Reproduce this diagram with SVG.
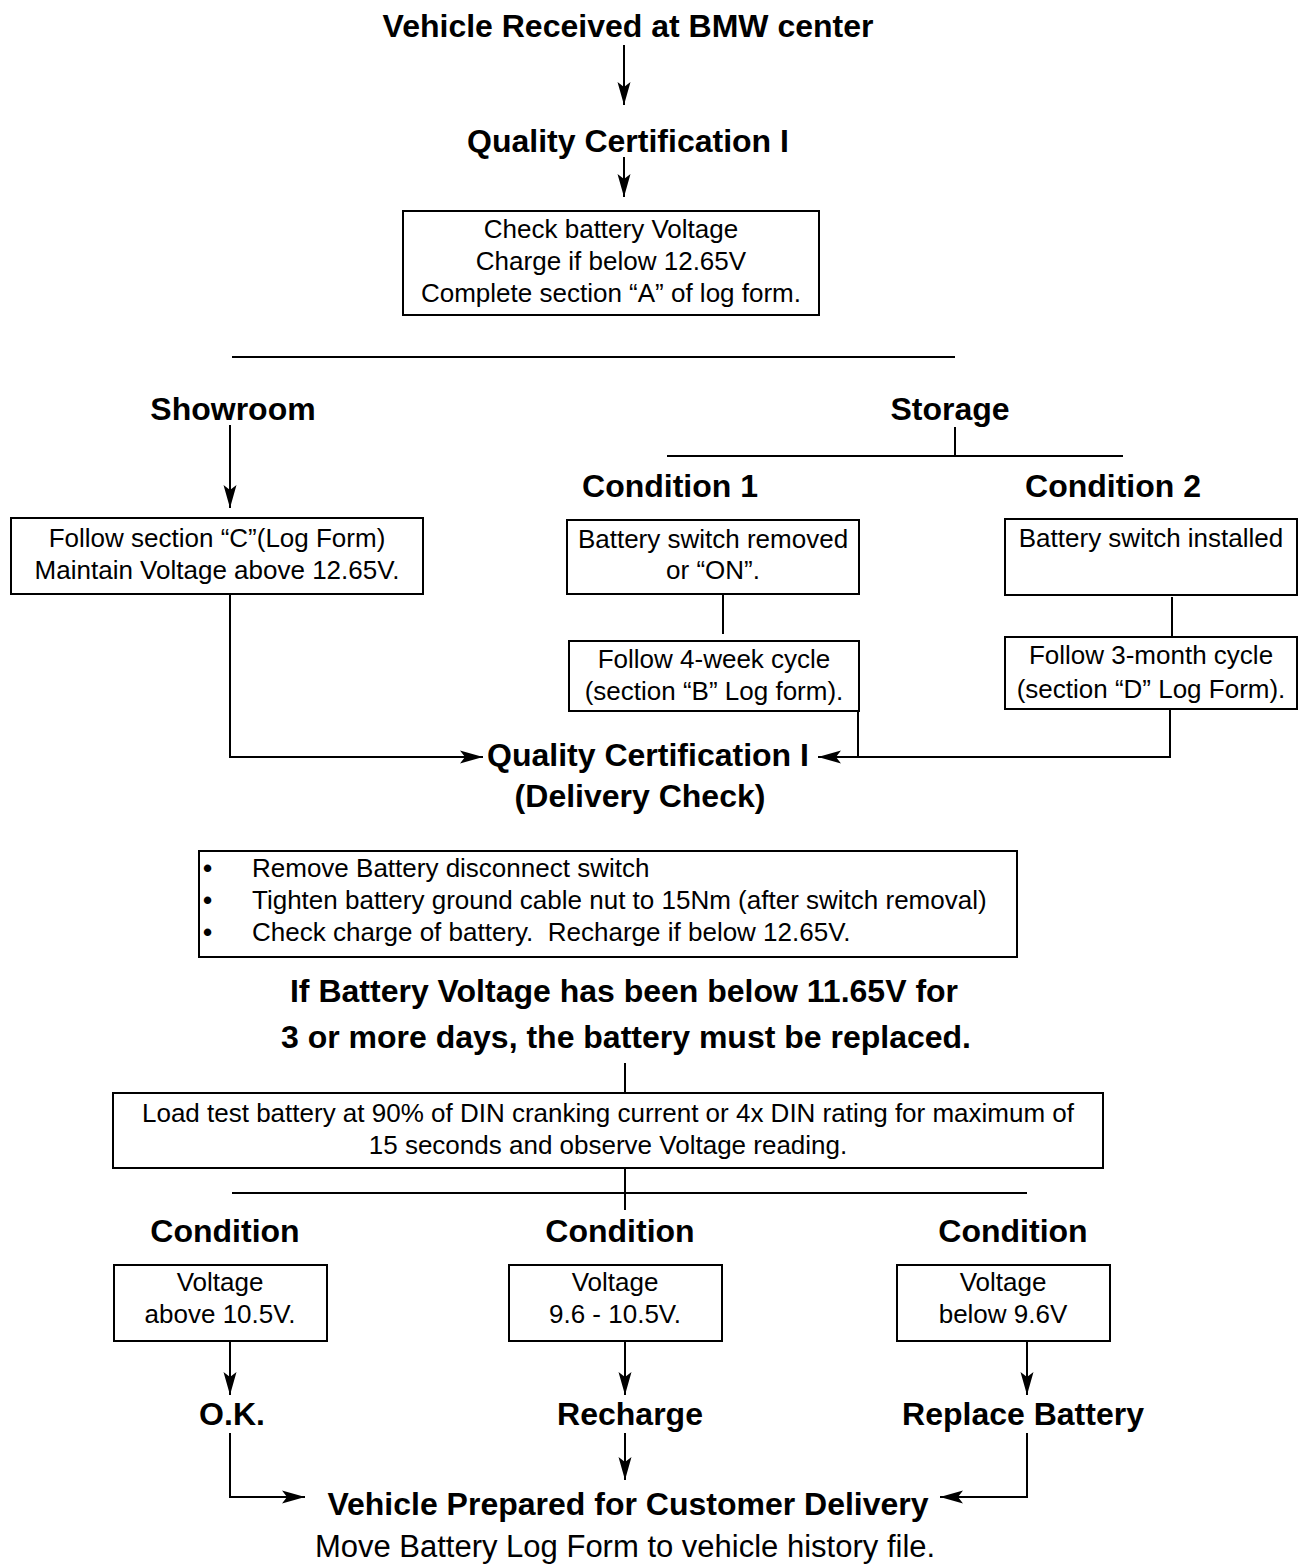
<svg xmlns="http://www.w3.org/2000/svg" width="1301" height="1565" viewBox="0 0 1301 1565">
<defs>
<marker id="ah" markerUnits="userSpaceOnUse" markerWidth="26" markerHeight="16" refX="23" refY="8" orient="auto">
<path d="M0,1.5 L23,8 L0,14.5 L5,8 z" fill="#000"/>
</marker>
<style>
.h{font-family:"Liberation Sans",Arial,sans-serif;font-weight:bold;font-size:32px;fill:#000;text-anchor:middle}
.t{font-family:"Liberation Sans",Arial,sans-serif;font-size:26px;fill:#000;text-anchor:middle}
.tl{font-family:"Liberation Sans",Arial,sans-serif;font-size:26px;fill:#000}
.bu{font-family:"Liberation Sans",Arial,sans-serif;font-size:26px;font-weight:bold;fill:#000}
.b{fill:#fff;stroke:#000;stroke-width:2}
.c{fill:none;stroke:#000;stroke-width:2}
</style>
</defs>
<rect width="1301" height="1565" fill="#fff"/>

<g id="connectors">
<line class="c" x1="624" y1="45" x2="624" y2="105" marker-end="url(#ah)"/>
<line class="c" x1="624" y1="157" x2="624" y2="197" marker-end="url(#ah)"/>
<line class="c" x1="232" y1="357" x2="955" y2="357"/>
<line class="c" x1="230" y1="425" x2="230" y2="508" marker-end="url(#ah)"/>
<line class="c" x1="955" y1="427" x2="955" y2="456"/>
<line class="c" x1="667" y1="456" x2="1123" y2="456"/>
<line class="c" x1="723" y1="594" x2="723" y2="634"/>
<line class="c" x1="1172" y1="597" x2="1172" y2="636"/>
<polyline class="c" points="230,594 230,757 483,757" marker-end="url(#ah)"/>
<line class="c" x1="858" y1="711" x2="858" y2="757"/>
<polyline class="c" points="1170,709 1170,757 818,757" marker-end="url(#ah)"/>
<line class="c" x1="625" y1="1063" x2="625" y2="1092"/>
<line class="c" x1="625" y1="1168" x2="625" y2="1210"/>
<line class="c" x1="232" y1="1193" x2="1027" y2="1193"/>
<line class="c" x1="230" y1="1335" x2="230" y2="1395" marker-end="url(#ah)"/>
<line class="c" x1="625" y1="1335" x2="625" y2="1395" marker-end="url(#ah)"/>
<line class="c" x1="1027" y1="1335" x2="1027" y2="1395" marker-end="url(#ah)"/>
<polyline class="c" points="230,1433 230,1497 305,1497" marker-end="url(#ah)"/>
<line class="c" x1="625" y1="1433" x2="625" y2="1480" marker-end="url(#ah)"/>
<polyline class="c" points="1027,1433 1027,1497 940,1497" marker-end="url(#ah)"/>
</g>

<g id="n-received"><text class="h" x="628" y="37">Vehicle Received at BMW center</text></g>
<g id="n-qc1"><text class="h" x="628" y="152">Quality Certification I</text></g>
<g id="n-check">
<rect class="b" x="403" y="211" width="416" height="104"/>
<text class="t" x="611" y="238">Check battery Voltage</text>
<text class="t" x="611" y="270">Charge if below 12.65V</text>
<text class="t" x="611" y="302">Complete section “A” of log form.</text>
</g>
<g id="n-showroom"><text class="h" x="233" y="420">Showroom</text></g>
<g id="n-storage"><text class="h" x="950" y="420">Storage</text></g>
<g id="n-cond1"><text class="h" x="670" y="497">Condition 1</text></g>
<g id="n-cond2"><text class="h" x="1113" y="497">Condition 2</text></g>
<g id="n-showbox">
<rect class="b" x="11" y="518" width="412" height="76"/>
<text class="t" x="217" y="547">Follow section “C”(Log Form)</text>
<text class="t" x="217" y="579">Maintain Voltage above 12.65V.</text>
</g>
<g id="n-c1box">
<rect class="b" x="567" y="520" width="292" height="74"/>
<text class="t" x="713" y="548">Battery switch removed</text>
<text class="t" x="713" y="579">or “ON”.</text>
</g>
<g id="n-c1cycle">
<rect class="b" x="569" y="641" width="290" height="70"/>
<text class="t" x="714" y="668">Follow 4-week cycle</text>
<text class="t" x="714" y="700">(section “B” Log form).</text>
</g>
<g id="n-c2box">
<rect class="b" x="1005" y="519" width="292" height="76"/>
<text class="t" x="1151" y="547">Battery switch installed</text>
</g>
<g id="n-c2cycle">
<rect class="b" x="1005" y="637" width="292" height="72"/>
<text class="t" x="1151" y="664">Follow 3-month cycle</text>
<text class="t" x="1151" y="698">(section “D” Log Form).</text>
</g>
<g id="n-qc2">
<text class="h" x="648" y="766">Quality Certification I</text>
<text class="h" x="640" y="807">(Delivery Check)</text>
</g>
<g id="n-steps">
<rect class="b" x="199" y="851" width="818" height="106"/>
<text class="bu" x="203" y="877">•</text>
<text class="tl" x="252" y="877">Remove Battery disconnect switch</text>
<text class="bu" x="203" y="909">•</text>
<text class="tl" x="252" y="909">Tighten battery ground cable nut to 15Nm (after switch removal)</text>
<text class="bu" x="203" y="941">•</text>
<text class="tl" x="252" y="941" xml:space="preserve">Check charge of battery.  Recharge if below 12.65V.</text>
</g>
<g id="n-warning">
<text class="h" x="624" y="1002">If Battery Voltage has been below 11.65V for</text>
<text class="h" x="626" y="1048">3 or more days, the battery must be replaced.</text>
</g>
<g id="n-loadtest">
<rect class="b" x="113" y="1093" width="990" height="75"/>
<text class="t" x="608" y="1122">Load test battery at 90% of DIN cranking current or 4x DIN rating for maximum of</text>
<text class="t" x="608" y="1154">15 seconds and observe Voltage reading.</text>
</g>
<g id="n-condA"><text class="h" x="225" y="1242">Condition</text></g>
<g id="n-condB"><text class="h" x="620" y="1242">Condition</text></g>
<g id="n-condC"><text class="h" x="1013" y="1242">Condition</text></g>
<g id="n-boxA">
<rect class="b" x="114" y="1265" width="213" height="76"/>
<text class="t" x="220" y="1291">Voltage</text>
<text class="t" x="220" y="1323">above 10.5V.</text>
</g>
<g id="n-boxB">
<rect class="b" x="509" y="1265" width="213" height="76"/>
<text class="t" x="615" y="1291">Voltage</text>
<text class="t" x="615" y="1323">9.6 - 10.5V.</text>
</g>
<g id="n-boxC">
<rect class="b" x="897" y="1265" width="213" height="76"/>
<text class="t" x="1003" y="1291">Voltage</text>
<text class="t" x="1003" y="1323">below 9.6V</text>
</g>
<g id="n-ok"><text class="h" x="232" y="1425">O.K.</text></g>
<g id="n-recharge"><text class="h" x="630" y="1425">Recharge</text></g>
<g id="n-replace"><text class="h" x="1023" y="1425">Replace Battery</text></g>
<g id="n-delivery"><text class="h" x="628" y="1515">Vehicle Prepared for Customer Delivery</text></g>
<g id="n-move"><text class="t" x="625" y="1557" style="font-size:31px">Move Battery Log Form to vehicle history file.</text></g>
</svg>
